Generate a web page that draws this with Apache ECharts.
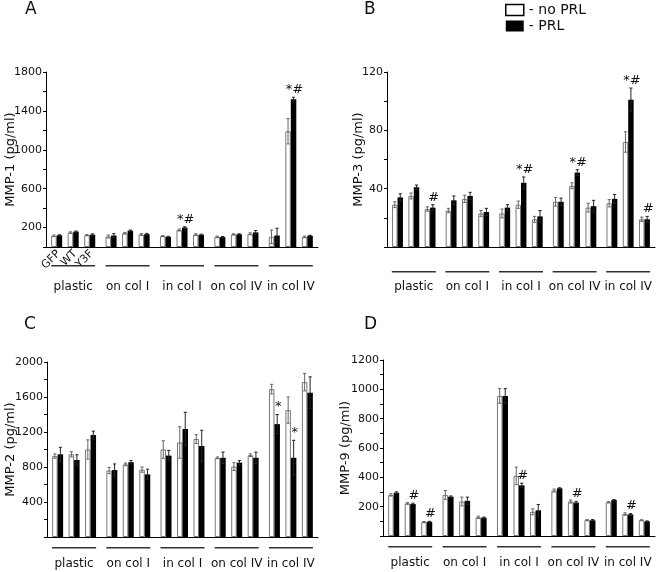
<!DOCTYPE html>
<html><head><meta charset="utf-8">
<script src="https://cdn.jsdelivr.net/npm/echarts@6/dist/echarts.min.js"></script>
<style>html,body{margin:0;padding:0;background:#fff}#c{width:660px;height:572px}</style>
</head><body><div id="c"></div>
<script>
// ---- data ----
const groups = ['plastic', 'on col I', 'in col I', 'on col IV', 'in col IV'];
const cellLines = ['GFP', 'WT', 'Y3F'];

// values in order: group-major, then GFP, WT, Y3F
const mmp1NoPRL    = [115, 148, 122,  108, 142, 128,  112, 175, 128,  104, 130, 136,  105, 1190, 104];
const mmp1NoPRLErr = [8, 8, 6,  15, 8, 10,  5, 10, 8,  8, 6, 10,  70, 130, 8];
const mmp1PRL      = [120, 158, 127,  118, 168, 132,  105, 200, 126,  102, 130, 150,  118, 1520, 116];
const mmp1PRLErr   = [6, 6, 8,  20, 6, 8,  5, 8, 6,  6, 6, 20,  75, 20, 5];
const mmp1Notes    = ['', '', '',  '', '', '',  '', '*#', '',  '', '', '',  '', '*#', ''];

const mmp3NoPRL    = [29, 35, 26,  25, 33, 23,  23, 29, 19,  31, 42, 27,  30, 72, 19];
const mmp3NoPRLErr = [2, 2, 1.5,  1.5, 2.5, 2,  3, 2.5, 2,  3, 2, 3,  2.5, 7, 1.5];
const mmp3PRL      = [34, 41, 27,  32, 35, 24,  27, 44, 21,  31, 51, 28,  33, 101, 19];
const mmp3PRLErr   = [2.5, 1.5, 2,  3, 2.5, 2.5,  2, 4, 4,  2.5, 2, 4,  3, 8, 2];
const mmp3Notes    = ['', '', '#',  '', '', '',  '', '*#', '',  '', '*#', '',  '', '*#', '#'];

const mmp2NoPRL    = [925, 945, 1000,  760, 830, 770,  1000, 1080, 1120,  905, 805, 935,  1690, 1450, 1770];
const mmp2NoPRLErr = [25, 30, 110,  35, 15, 30,  100, 180, 50,  10, 45, 15,  55, 150, 100];
const mmp2PRL      = [945, 880, 1165,  765, 855, 715,  930, 1235, 1040,  905, 850, 905,  1290, 905, 1650];
const mmp2PRLErr   = [80, 60, 45,  70, 20, 60,  60, 190, 180,  65, 25, 65,  110, 200, 180];
const mmp2Notes    = ['', '', '',  '', '', '',  '', '', '',  '', '', '',  '*', '*', ''];

const mmp9NoPRL    = [280, 222, 95,  280, 235, 127,  955, 410, 165,  310, 235, 108,  230, 150, 108];
const mmp9NoPRLErr = [8, 5, 4,  30, 30, 8,  50, 60, 20,  10, 10, 4,  4, 8, 3];
const mmp9PRL      = [295, 218, 97,  268, 240, 125,  955, 345, 175,  325, 228, 107,  245, 147, 100];
const mmp9PRLErr   = [6, 6, 3,  5, 25, 4,  50, 15, 40,  4, 8, 5,  4, 6, 3];
const mmp9Notes    = ['', '#', '#',  '', '', '',  '', '#', '',  '', '#', '',  '', '#', ''];

// ---- layout / style ----
const FONT = 'DejaVu Sans';
const GAP = 0.19;
const panels = [
  { letter: 'A', name: 'MMP-1 (pg/ml)', no: mmp1NoPRL, noE: mmp1NoPRLErr, yes: mmp1PRL, yesE: mmp1PRLErr, notes: mmp1Notes,
    grid: { left: 46, top: 72, width: 272, height: 175 }, max: 1800, tick: 200, lStart: 200, lStep: 400, nameGap: 29,
    lineMargin: 18, textLH: 40, pairLabels: true, title: { left: 25, top: 1 } },
  { letter: 'B', name: 'MMP-3 (pg/ml)', no: mmp3NoPRL, noE: mmp3NoPRLErr, yes: mmp3PRL, yesE: mmp3PRLErr, notes: mmp3Notes,
    grid: { left: 387, top: 72, width: 268, height: 175 }, max: 120, tick: 20, lStart: 40, lStep: 40, nameGap: 22,
    lineMargin: 24, textLH: 28, pairLabels: false, title: { left: 364, top: 1 } },
  { letter: 'C', name: 'MMP-2 (pg/ml)', no: mmp2NoPRL, noE: mmp2NoPRLErr, yes: mmp2PRL, yesE: mmp2PRLErr, notes: mmp2Notes,
    grid: { left: 47, top: 362, width: 271, height: 175 }, max: 2000, tick: 200, lStart: 400, lStep: 400, nameGap: 30,
    lineMargin: 10, textLH: 31, pairLabels: false, title: { left: 24, top: 316 } },
  { letter: 'D', name: 'MMP-9 (pg/ml)', no: mmp9NoPRL, noE: mmp9NoPRLErr, yes: mmp9PRL, yesE: mmp9PRLErr, notes: mmp9Notes,
    grid: { left: 383, top: 360, width: 272, height: 176 }, max: 1200, tick: 100, lStart: 200, lStep: 200, nameGap: 31,
    lineMargin: 10, textLH: 31, pairLabels: false, title: { left: 364, top: 316 } }
];

const option = {
  animation: false,
  backgroundColor: '#fff',
  title: panels.map(p => ({ text: p.letter, left: p.title.left, top: p.title.top, padding: 0,
    textStyle: { fontSize: 17, fontWeight: 'normal', fontFamily: FONT, color: '#111' } })),
  legend: {
    data: [
      { name: 'no PRL', icon: 'rect', itemStyle: { color: '#fff', borderColor: '#000', borderWidth: 1.5 } },
      { name: 'PRL', icon: 'rect', itemStyle: { color: '#000' } }
    ],
    orient: 'vertical', left: 505, top: 3, padding: 0, itemWidth: 18, itemHeight: 11, itemGap: 2,
    selectedMode: false, formatter: '- {name}',
    textStyle: { fontSize: 14, fontFamily: FONT, color: '#111', lineHeight: 14 }
  },
  grid: [], xAxis: [], yAxis: [], series: []
};

panels.forEach((p, k) => {
  option.grid.push(p.grid);
  option.xAxis.push({
    type: 'category', gridIndex: k, data: groups,
    axisLine: { lineStyle: { color: '#000', width: 1 } },
    axisTick: { show: false },
    axisLabel: {
      interval: 0, margin: p.lineMargin,
      formatter: v => '{l| }\n{t|' + v + '}',
      rich: {
        l: { width: 44, height: 1.5, lineHeight: 1.5, fontSize: 1, backgroundColor: '#333' },
        t: { fontSize: 12, fontFamily: FONT, color: '#111', lineHeight: p.textLH }
      }
    }
  });
  option.yAxis.push({
    type: 'value', gridIndex: k, min: 0, max: p.max, interval: p.tick,
    name: p.name, nameLocation: 'middle', nameGap: p.nameGap, nameMoveOverlap: false,
    nameTextStyle: { fontSize: 13, fontFamily: FONT, color: '#111' },
    axisLine: { show: true, lineStyle: { color: '#000', width: 1 } },
    axisTick: { show: true, length: 3, lineStyle: { color: '#000' } },
    splitLine: { show: false },
    axisLabel: {
      fontSize: 11, fontFamily: FONT, color: '#111', margin: 4,
      formatter: v => (v > 0 && (v - p.lStart) % p.lStep === 0) ? String(v) : ''
    }
  });
  // bar series: GFP(no, PRL), spacer, WT(no, PRL), spacer, Y3F(no, PRL)
  cellLines.forEach((c, ci) => {
    const noData = groups.map((g, gi) => p.no[gi * 3 + ci]);
    const yesData = groups.map((g, gi) => p.yes[gi * 3 + ci]);
    option.series.push({
      type: 'bar', name: 'no PRL', xAxisIndex: k, yAxisIndex: k, data: noData,
      barGap: '0%', barCategoryGap: (GAP * 100) + '%',
      itemStyle: { color: '#fff', borderColor: '#777', borderWidth: 1 }
    });
    option.series.push({
      type: 'bar', name: 'PRL', xAxisIndex: k, yAxisIndex: k, data: yesData,
      barGap: '0%', barCategoryGap: (GAP * 100) + '%',
      itemStyle: { color: '#000' }
    });
    if (ci < 2) {
      option.series.push({
        type: 'bar', name: 'spacer', xAxisIndex: k, yAxisIndex: k, data: groups.map(() => '-'),
        barGap: '0%', barCategoryGap: (GAP * 100) + '%', silent: true
      });
    }
  });
  // error bars, significance marks, cell-line labels
  const errData = [];
  for (let i = 0; i < 15; i++) {
    errData.push([Math.floor(i / 3), p.no[i], p.noE[i], p.yes[i], p.yesE[i], i]);
  }
  option.series.push({
    type: 'custom', name: 'err', xAxisIndex: k, yAxisIndex: k, data: errData, clip: false, silent: true,
    encode: { x: 0, y: [1, 3] }, z: 5,
    renderItem: (params, api) => {
      const g = api.value(0), idx = api.value(5), ci = idx % 3;
      const base = api.coord([g, 0]);
      const catW = api.size([1, 0])[0];
      const slot = catW * (1 - GAP) / 8;
      const xW = base[0] + (3 * ci + 0.5 - 4) * slot;
      const xB = base[0] + (3 * ci + 1.5 - 4) * slot;
      const children = [];
      function err(x, v, e, col) {
        const top = api.coord([g, v + e])[1];
        const bot = api.coord([g, v - e])[1];
        const cap = 1.6;
        const st = { stroke: col, lineWidth: 1 };
        children.push({ type: 'line', shape: { x1: x, y1: top, x2: x, y2: bot }, style: st });
        children.push({ type: 'line', shape: { x1: x - cap, y1: top, x2: x + cap, y2: top }, style: st });
        children.push({ type: 'line', shape: { x1: x - cap, y1: bot, x2: x + cap, y2: bot }, style: st });
        return top;
      }
      err(xW, api.value(1), api.value(2), '#666');
      const topB = err(xB, api.value(3), api.value(4), '#222');
      const note = p.notes[idx];
      if (note) {
        children.push({ type: 'text', style: { text: note, x: xB + 1, y: topB - 1, align: 'center', verticalAlign: 'bottom',
          fontSize: 13, fontFamily: FONT, fill: '#111' } });
      }
      if (p.pairLabels && g === 0) {
        children.push({ type: 'text', x: (xW + xB) / 2 + 2, y: base[1] + 5, rotation: Math.PI / 4,
          style: { text: cellLines[ci], align: 'right', verticalAlign: 'middle', fontSize: 11, fontFamily: FONT, fill: '#111' } });
      }
      return { type: 'group', children };
    }
  });
});

const chart = echarts.init(document.getElementById('c'), null, { renderer: 'canvas' });
chart.setOption(option);
</script></body></html>
